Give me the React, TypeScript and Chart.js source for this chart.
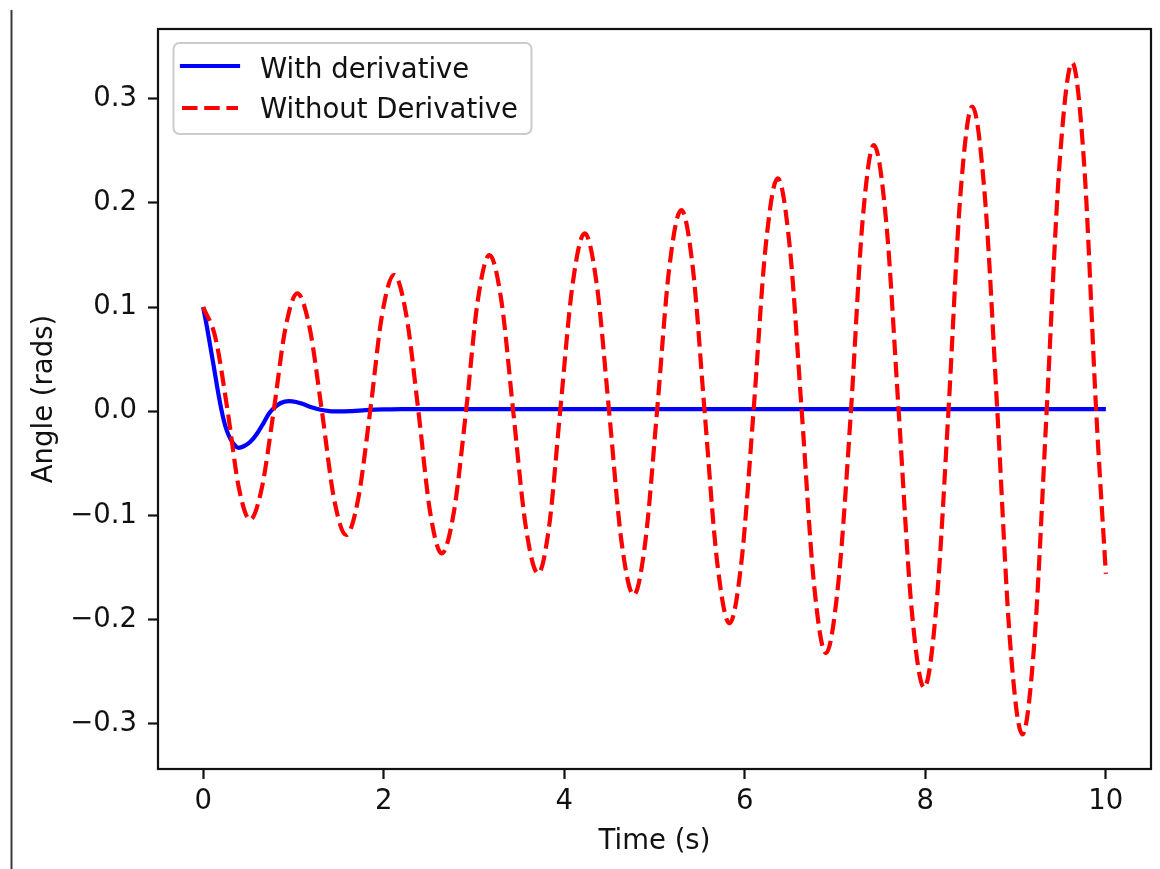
import React, { useEffect, useRef } from "react";
import { Chart, registerables } from "chart.js";

Chart.register(...registerables);

// ---- data ----
const seriesLabels = ["With derivative", "Without Derivative"];
const xTitle = "Time (s)";
const yTitle = "Angle (rads)";
const xTickValues = [0, 2, 4, 6, 8, 10];
const yTickValues = [-0.3, -0.2, -0.1, 0.0, 0.1, 0.2, 0.3];
const X_MIN = -0.5;
const X_MAX = 10.5;
const Y_MIN = -0.3432;
const Y_MAX = 0.3669;

const blueTime = [
  0, 0.04, 0.08, 0.12, 0.155, 0.19, 0.228, 0.26, 0.3, 0.35, 0.393, 0.45, 0.52,
  0.6, 0.67, 0.73, 0.781, 0.86, 0.95, 1.03, 1.113, 1.2, 1.3, 1.4, 1.52, 1.65,
  1.8, 2.0, 2.2, 2.5, 3, 4, 5, 6, 7, 8, 9, 10,
];
const blueAngle = [
  0.1, 0.082, 0.062, 0.042, 0.0237, 0.007, -0.0083, -0.018, -0.026, -0.0325,
  -0.035, -0.0335, -0.0295, -0.021, -0.011, -0.002, 0.003, 0.008, 0.0098,
  0.009, 0.0068, 0.004, 0.0015, 0.0002, -0.0001, 0.0003, 0.0011, 0.0018,
  0.0021, 0.0022, 0.0022, 0.0022, 0.0022, 0.0022, 0.0022, 0.0022, 0.0022,
  0.0022,
];

const redTime = [
  0, 0.136, 0.272, 0.396,
  0.52, 0.65, 0.781, 0.912,
  1.043, 1.18, 1.316, 1.45,
  1.585, 1.718, 1.85, 1.982,
  2.115, 2.25, 2.385, 2.514,
  2.643, 2.778, 2.912, 3.042,
  3.172, 3.304, 3.435, 3.573,
  3.711, 3.833, 3.955, 4.091,
  4.227, 4.362, 4.497, 4.634,
  4.77, 4.899, 5.028, 5.162,
  5.297, 5.426, 5.555, 5.693,
  5.831, 5.964, 6.097, 6.231,
  6.365, 6.498, 6.631, 6.765,
  6.899, 7.037, 7.176, 7.303,
  7.43, 7.568, 7.705, 7.846,
  7.987, 8.122, 8.256, 8.388,
  8.52, 8.659, 8.798, 8.937,
  9.075, 9.21, 9.344, 9.486,
  9.627, 9.76, 9.893, 10.0,
];
const redAngle = [
  0.1, 0.0707, 0, -0.0735,
  -0.104, -0.0735, 0, 0.08,
  0.1132, 0.08, 0, -0.0839,
  -0.1186, -0.0839, 0, 0.0926,
  0.1309, 0.0926, 0, -0.0964,
  -0.1363, -0.0964, 0, 0.1061,
  0.15, 0.1061, 0, -0.11,
  -0.1555, -0.11, 0, 0.1208,
  0.1708, 0.1208, 0, -0.1246,
  -0.1762, -0.1246, 0, 0.1366,
  0.1932, 0.1366, 0, -0.1438,
  -0.2034, -0.1438, 0, 0.1581,
  0.2236, 0.1581, 0, -0.164,
  -0.232, -0.164, 0, 0.1807,
  0.2555, 0.1807, 0, -0.1874,
  -0.265, -0.1874, 0, 0.2068,
  0.2925, 0.2068, 0, -0.2192,
  -0.31, -0.2192, 0, 0.2365,
  0.3345, 0.2365, 0, -0.156,
];

const BLUE = "#0000ff";
const RED = "#ff0000";
const FONT_FAMILY = "'DejaVu Sans', 'Liberation Sans', sans-serif";
const FONT_SIZE = 27.5;
const LINE_W = 4.2;
const DASH = [15.5, 6.7];

const fmtTick = (v: number) => v.toFixed(1).replace("-", "\u2212");

const decorPlugin = {
  id: "decor",
  beforeDraw(chart: any) {
    const ctx = chart.ctx;
    ctx.save();
    ctx.fillStyle = "#ffffff";
    ctx.fillRect(0, 0, chart.width, chart.height);
    ctx.restore();
  },
  afterDatasetsDraw(chart: any) {
    const { ctx, chartArea } = chart;
    ctx.save();
    ctx.strokeStyle = "#111111";
    ctx.lineWidth = 2.2;
    ctx.strokeRect(
      chartArea.left,
      chartArea.top,
      chartArea.right - chartArea.left,
      chartArea.bottom - chartArea.top
    );
    ctx.restore();
  },
  afterDraw(chart: any) {
    const ctx = chart.ctx;
    ctx.save();
    // stray vertical line at the left edge of the picture
    ctx.fillStyle = "#3a3a3a";
    ctx.fillRect(10.5, 10, 2, chart.height - 10);

    // legend box
    ctx.beginPath();
    (ctx as any).roundRect(173.5, 43, 358, 91, 6);
    ctx.fillStyle = "rgba(255,255,255,0.8)";
    ctx.fill();
    ctx.strokeStyle = "#cccccc";
    ctx.lineWidth = 2;
    ctx.stroke();

    // blue handle
    ctx.beginPath();
    ctx.strokeStyle = BLUE;
    ctx.lineWidth = LINE_W;
    ctx.lineCap = "square";
    ctx.moveTo(182, 66);
    ctx.lineTo(238, 66);
    ctx.stroke();

    // red dashed handle
    ctx.beginPath();
    ctx.strokeStyle = RED;
    ctx.lineCap = "butt";
    ctx.setLineDash(DASH);
    ctx.moveTo(182, 108);
    ctx.lineTo(238, 108);
    ctx.stroke();
    ctx.setLineDash([]);

    ctx.fillStyle = "#111111";
    ctx.font = `${FONT_SIZE}px ${FONT_FAMILY}`;
    ctx.textBaseline = "alphabetic";
    ctx.textAlign = "left";
    ctx.fillText(seriesLabels[0], 260, 77.5);
    ctx.fillText(seriesLabels[1], 260, 117.5);
    ctx.restore();
  },
};

export default function App() {
  const canvasRef = useRef<HTMLCanvasElement | null>(null);

  useEffect(() => {
    const canvas = canvasRef.current;
    if (!canvas) return;
    Chart.defaults.font.family = FONT_FAMILY;
    Chart.defaults.font.size = FONT_SIZE;
    Chart.defaults.color = "#111111";

    const blueData = blueTime.map((t, i) => ({ x: t, y: blueAngle[i] }));
    const redData = redTime.map((t, i) => ({ x: t, y: redAngle[i] }));

    const chart = new Chart(canvas, {
      type: "line",
      data: {
        datasets: [
          {
            label: seriesLabels[0],
            data: blueData,
            borderColor: BLUE,
            backgroundColor: BLUE,
            borderWidth: LINE_W,
            pointRadius: 0,
            fill: false,
            cubicInterpolationMode: "monotone",
            borderJoinStyle: "round",
            order: 1,
          },
          {
            label: seriesLabels[1],
            data: redData,
            borderColor: RED,
            backgroundColor: RED,
            borderWidth: LINE_W,
            borderDash: DASH,
            pointRadius: 0,
            fill: false,
            cubicInterpolationMode: "monotone",
            borderJoinStyle: "round",
            order: 0,
          },
        ],
      },
      options: {
        responsive: false,
        animation: false,
        devicePixelRatio: 1,
        layout: { padding: { left: 0, top: 29, right: 9, bottom: 0 } },
        plugins: {
          legend: { display: false },
          tooltip: { enabled: false },
          title: { display: false },
        },
        scales: {
          x: {
            type: "linear",
            min: X_MIN,
            max: X_MAX,
            afterBuildTicks: (scale: any) => {
              scale.ticks = xTickValues.map((v) => ({ value: v }));
            },
            afterFit: (scale: any) => {
              scale.height = 100;
            },
            ticks: {
              autoSkip: false,
              maxRotation: 0,
              minRotation: 0,
              padding: 6,
              color: "#111111",
              font: { size: FONT_SIZE },
              callback: (v: any) => String(v),
            },
            grid: {
              drawOnChartArea: false,
              drawTicks: true,
              tickLength: 10,
              tickWidth: 2.2,
              tickColor: "#111111",
            },
            border: { display: false },
            title: {
              display: true,
              text: xTitle,
              color: "#111111",
              font: { size: FONT_SIZE },
              padding: { top: 0, bottom: 10.5 },
            },
          },
          y: {
            type: "linear",
            min: Y_MIN,
            max: Y_MAX,
            afterBuildTicks: (scale: any) => {
              scale.ticks = yTickValues.map((v) => ({ value: v }));
            },
            afterFit: (scale: any) => {
              scale.width = 158;
            },
            ticks: {
              autoSkip: false,
              padding: 11,
              color: "#111111",
              font: { size: FONT_SIZE },
              callback: (v: any) => fmtTick(Number(v)),
            },
            grid: {
              drawOnChartArea: false,
              drawTicks: true,
              tickLength: 10,
              tickWidth: 2.2,
              tickColor: "#111111",
            },
            border: { display: false },
            title: {
              display: true,
              text: yTitle,
              color: "#111111",
              font: { size: FONT_SIZE },
              padding: { top: 28.5, bottom: 0 },
            },
          },
        },
      },
      plugins: [decorPlugin],
    } as any);

    return () => {
      chart.destroy();
    };
  }, []);

  return (
    <div
      style={{
        position: "absolute",
        left: 0,
        top: 0,
        width: 1160,
        height: 869,
        background: "#ffffff",
        overflow: "hidden",
      }}
    >
      <canvas
        ref={canvasRef}
        width={1160}
        height={869}
        style={{ display: "block", width: 1160, height: 869 }}
      />
    </div>
  );
}
